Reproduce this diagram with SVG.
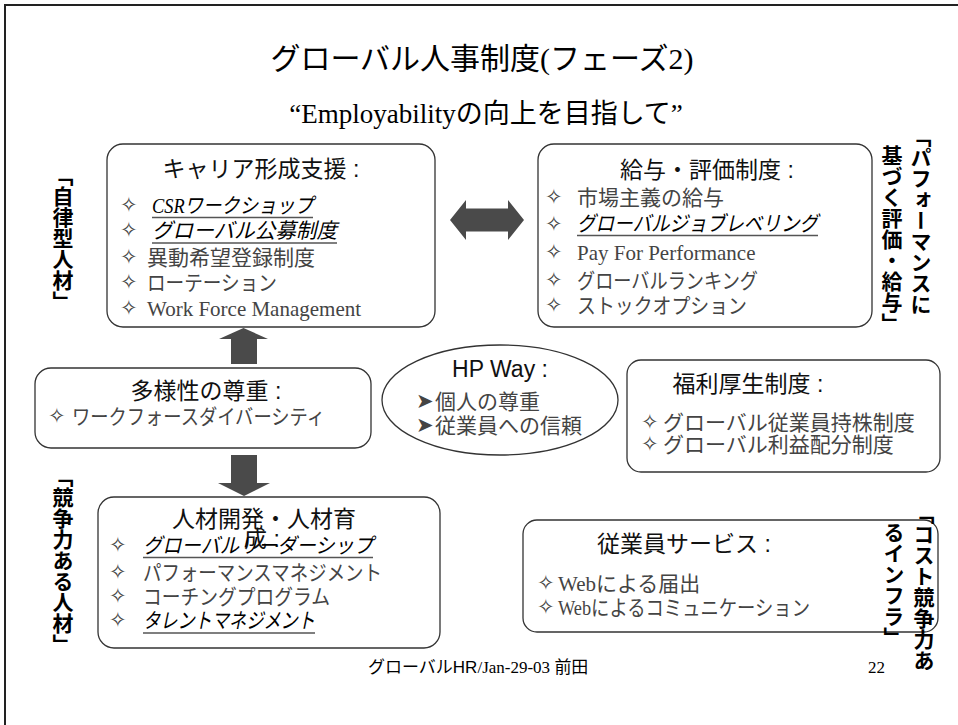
<svg xmlns="http://www.w3.org/2000/svg" width="958" height="725" viewBox="0 0 958 725">
<style>
.frame{fill:none;stroke:#222;stroke-width:2}
.box{fill:#fff;stroke:#333;stroke-width:1.3}
.arr{fill:#4a4a4a;stroke:none}
.ttl{font-family:"Liberation Sans","Noto Sans CJK JP",sans-serif;font-size:23px;fill:#111;text-anchor:middle}
.it{font-family:"Liberation Serif","Noto Sans CJK JP",serif;font-size:21px;fill:#444}
.ub{fill:#000;font-style:italic}
.dm{font-family:"DejaVu Sans",sans-serif;font-size:21px;fill:#444}
.ul{stroke:#555;stroke-width:1.5}
.vl{font-family:"Noto Sans CJK JP",sans-serif;font-weight:bold;font-size:21px;fill:#000;writing-mode:vertical-rl}
.hd{font-family:"Liberation Serif","Noto Sans CJK JP",serif;fill:#000;text-anchor:middle}
</style>
<path class="frame" d="M5,725 V5 H958"/>
<g id="title">
<text class="hd" x="482" y="69" font-size="30">グローバル人事制度(フェーズ2)</text>
<text class="hd" x="486" y="123" font-size="27" fill="#222">“Employabilityの向上を目指して”</text>
</g>
<g id="connectors">
<path class="arr" d="M450,220 L466,200 V208.5 H508 V200 L524,220 L508,240 V231.5 H466 V240 Z"/>
<path class="arr" d="M243.5,328 L268,339 H257 V364 H231 V339 H219 Z"/>
<path class="arr" d="M231,455 H257 V483 H270 L244,496 L218,483 H231 Z"/>
</g>
<g id="career">
<rect class="box" x="107" y="144" width="328" height="183" rx="16"/>
<text class="ttl" x="261" y="177">キャリア形成支援 :</text>
<text class="dm" x="120" y="212">✧</text><text class="it ub" x="152" y="213" textLength="161" lengthAdjust="spacingAndGlyphs">CSRワークショップ</text>
<line class="ul" x1="152" y1="217.5" x2="313" y2="217.5"/>
<text class="dm" x="120" y="237">✧</text><text class="it ub" x="152" y="238" textLength="185" lengthAdjust="spacingAndGlyphs">グローバル公募制度</text>
<line class="ul" x1="152" y1="243" x2="337" y2="243"/>
<text class="dm" x="120" y="264">✧</text><text class="it" x="147" y="265">異動希望登録制度</text>
<text class="dm" x="120" y="289">✧</text><text class="it" x="147" y="290" textLength="130" lengthAdjust="spacingAndGlyphs">ローテーション</text>
<text class="dm" x="120" y="315">✧</text><text class="it" x="147" y="316">Work Force Management</text>
</g>
<g id="pay">
<rect class="box" x="538" y="144" width="334" height="183" rx="16"/>
<text class="ttl" x="707" y="178">給与・評価制度 :</text>
<text class="dm" x="545" y="204">✧</text><text class="it" x="577" y="205">市場主義の給与</text>
<text class="dm" x="545" y="231">✧</text><text class="it ub" x="577" y="231" textLength="241" lengthAdjust="spacingAndGlyphs">グローバルジョブレベリング</text>
<line class="ul" x1="577" y1="235.5" x2="818" y2="235.5"/>
<text class="dm" x="545" y="259">✧</text><text class="it" x="577" y="260">Pay For Performance</text>
<text class="dm" x="545" y="287">✧</text><text class="it" x="577" y="288" textLength="181" lengthAdjust="spacingAndGlyphs">グローバルランキング</text>
<text class="dm" x="545" y="312">✧</text><text class="it" x="577" y="313" textLength="170" lengthAdjust="spacingAndGlyphs">ストックオプション</text>
</g>
<g id="diversity">
<rect class="box" x="35" y="368" width="336" height="80" rx="16"/>
<text class="ttl" x="206" y="399">多様性の尊重 :</text>
<text class="dm" x="48" y="423">✧</text><text class="it" x="72" y="424" textLength="253" lengthAdjust="spacingAndGlyphs">ワークフォースダイバーシティ</text>
</g>
<g id="hpway">
<ellipse class="box" cx="500" cy="400" rx="118" ry="55" stroke-width="1"/>
<text x="500" y="377" font-family="Liberation Sans,sans-serif" font-size="23" fill="#111" text-anchor="middle">HP Way :</text>
<text class="dm" x="416" y="408" font-size="14">➤</text><text class="it" x="435" y="409" font-size="20">個人の尊重</text>
<text class="dm" x="416" y="432" font-size="14">➤</text><text class="it" x="435" y="433" font-size="20">従業員への信頼</text>
</g>
<g id="welfare">
<rect class="box" x="627" y="360" width="313" height="112" rx="14"/>
<text class="ttl" x="748" y="392">福利厚生制度 :</text>
<text class="dm" x="641" y="429">✧</text><text class="it" x="663" y="430">グローバル従業員持株制度</text>
<text class="dm" x="641" y="451">✧</text><text class="it" x="663" y="452">グローバル利益配分制度</text>
</g>
<g id="talent">
<rect class="box" x="98" y="497" width="342" height="151" rx="16"/>
<text class="ttl" x="264" y="527">人材開発・人材育</text>
<text class="ttl" x="262" y="547">成 :</text>
<text class="dm" x="109" y="552">✧</text><text class="it ub" x="143" y="553" textLength="230" lengthAdjust="spacingAndGlyphs">グローバルリーダーシップ</text>
<line class="ul" x1="143" y1="557.5" x2="373" y2="557.5"/>
<text class="dm" x="109" y="579">✧</text><text class="it" x="143" y="580" textLength="239" lengthAdjust="spacingAndGlyphs">パフォーマンスマネジメント</text>
<text class="dm" x="109" y="603">✧</text><text class="it" x="143" y="604" textLength="187" lengthAdjust="spacingAndGlyphs">コーチングプログラム</text>
<text class="dm" x="109" y="627">✧</text><text class="it ub" x="143" y="628" textLength="172" lengthAdjust="spacingAndGlyphs">タレントマネジメント</text>
<line class="ul" x1="143" y1="633" x2="315" y2="633"/>
</g>
<g id="service">
<rect class="box" x="523" y="520" width="415" height="112" rx="14"/>
<text class="ttl" x="684" y="552">従業員サービス :</text>
<text class="dm" x="537" y="590">✧</text><text class="it" x="558" y="591">Webによる届出</text>
<text class="dm" x="537" y="614">✧</text><text class="it" x="558" y="615" textLength="252" lengthAdjust="spacingAndGlyphs">Webによるコミュニケーション</text>
</g>
<g id="labels">
<text class="vl" x="63" y="165">「自律型人材」</text>
<text class="vl" x="63" y="466">「競争力ある人材」</text>
<text class="vl" x="921" y="126">「パフォーマンスに</text>
<text class="vl" x="892" y="145">基づく評価・給与」</text>
<text class="vl" x="924" y="503">「コスト競争力あ</text>
<text class="vl" x="894" y="522">るインフラ」</text>
</g>
<g id="footer">
<text x="368" y="673" font-family="Liberation Serif,Noto Sans CJK JP,serif" font-size="17" fill="#000"><tspan font-family="Noto Sans CJK JP,sans-serif">グローバル</tspan><tspan font-family="Liberation Sans,sans-serif">HR</tspan>/Jan-29-03 <tspan font-family="Noto Sans CJK JP,sans-serif">前田</tspan></text>
<text x="868" y="673" font-family="Liberation Serif,serif" font-size="17" fill="#000">22</text>
</g>
</svg>
